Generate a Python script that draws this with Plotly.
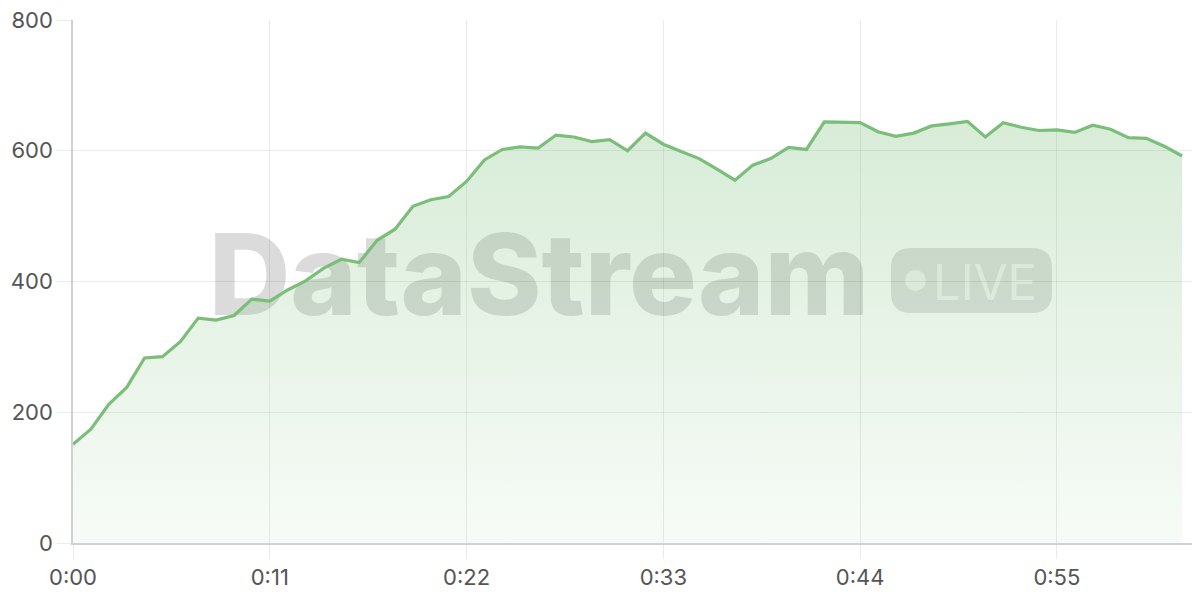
import plotly.graph_objects as go

seconds = list(range(63))
values = [151, 174, 212, 238, 283, 285, 308, 344, 341, 348,
          373, 370, 387, 401, 420, 434, 429, 463, 480, 515,
          525, 530, 553, 586, 602, 606, 604, 624, 621, 614,
          617, 600, 627, 610, 599, 588, 572, 555, 578, 588,
          605, 602, 644, 643, 643, 629, 622, 627, 638, 641,
          645, 621, 643, 636, 631, 632, 628, 639, 633, 620,
          619, 607, 592]
tick_vals = [0, 11, 22, 33, 44, 55]
tick_text = ["0:00", "0:11", "0:22", "0:33", "0:44", "0:55"]
y_ticks = [0, 200, 400, 600, 800]

fig = go.Figure()
fig.add_trace(go.Scatter(
    x=seconds, y=values, mode="lines",
    line=dict(color="rgb(122,190,122)", width=3.2),
    fill="tozeroy",
    fillgradient=dict(type="vertical", start=0, stop=650,
                      colorscale=[[0, "rgba(122,190,122,0.06)"],
                                  [1, "rgba(122,190,122,0.30)"]]),
    hoverinfo="skip", showlegend=False,
))

# helpers: screen pixel -> paper coords of plot area (73..1200, 20..543)
def px(x):
    return (x - 73) / 1127
def py(y):
    return (543 - y) / 523

# watermark
fig.add_shape(type="rect", xref="paper", yref="paper", layer="below",
              x0=px(200), x1=px(878), y0=py(322), y1=py(218),
              line=dict(width=0), fillcolor="rgba(0,0,0,0)",
              label=dict(text="DataStream", textposition="middle center",
                         font=dict(family="Inter", size=113, weight=800,
                                   color="rgba(0,0,0,0.14)")))
# LIVE badge
bx0, bx1, by0, by1, r = 891, 1052, 248, 313, 20
path = (f"M {px(bx0 + r)},{py(by0)} L {px(bx1 - r)},{py(by0)} "
        f"Q {px(bx1)},{py(by0)} {px(bx1)},{py(by0 + r)} "
        f"L {px(bx1)},{py(by1 - r)} Q {px(bx1)},{py(by1)} {px(bx1 - r)},{py(by1)} "
        f"L {px(bx0 + r)},{py(by1)} Q {px(bx0)},{py(by1)} {px(bx0)},{py(by1 - r)} "
        f"L {px(bx0)},{py(by0 + r)} Q {px(bx0)},{py(by0)} {px(bx0 + r)},{py(by0)} Z")
fig.add_shape(type="path", xref="paper", yref="paper", layer="below", path=path,
              line=dict(width=0), fillcolor="rgba(0,0,0,0.12)")
fig.add_shape(type="circle", xref="paper", yref="paper", layer="below",
              x0=px(905), x1=px(926), y0=py(291), y1=py(270),
              line=dict(width=0), fillcolor="rgba(255,255,255,0.65)")
fig.add_shape(type="rect", xref="paper", yref="paper", layer="below",
              x0=px(935), x1=px(1035), y0=py(304), y1=py(256),
              line=dict(width=0), fillcolor="rgba(0,0,0,0)",
              label=dict(text="LIVE", textposition="middle center",
                         font=dict(family="Inter", size=49, weight=400,
                                   color="rgba(255,255,255,0.65)")))

axis_common = dict(
    showgrid=True, gridcolor="rgba(0,0,0,0.08)", gridwidth=1,
    zeroline=False, showline=True, linecolor="rgba(0,0,0,0.18)", linewidth=1.5,
    ticks="outside", ticklen=14, tickcolor="rgba(0,0,0,0.08)",
    fixedrange=True, automargin=False, ticklabeloverflow="allow",
    tickfont=dict(family="Inter", size=22, color="#555"),
)

# page body has an 8px margin, so the figure is 1192x592 placed at (8,8)
fig.update_layout(
    width=1192, height=592,
    margin=dict(l=65, r=0, t=12, b=57),
    paper_bgcolor="white", plot_bgcolor="white",
    font=dict(family="Inter", size=22, color="#555"),
    xaxis=dict(range=[0, 63], tickmode="array", tickvals=tick_vals, ticktext=tick_text,
               **axis_common),
    yaxis=dict(range=[0, 800], tickmode="array", tickvals=y_ticks, **axis_common),
)

fig.write_html("out.html")
